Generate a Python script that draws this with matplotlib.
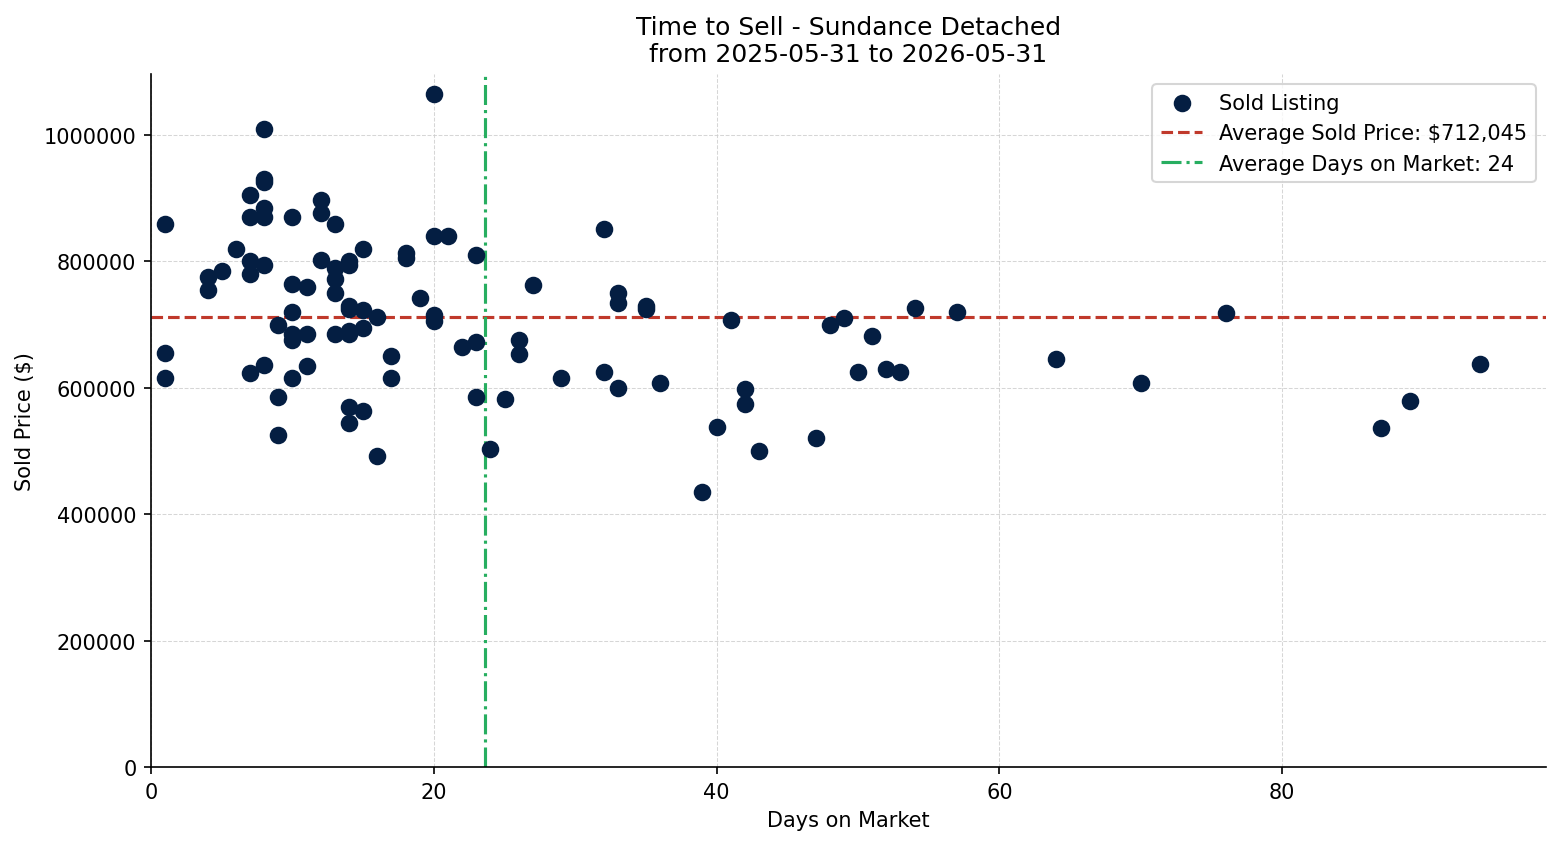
import matplotlib
matplotlib.use("Agg")
import matplotlib.pyplot as plt
from matplotlib.ticker import ScalarFormatter

# days on market and sold price
days = [1, 1, 1, 4, 4, 5, 6,
        7, 7, 7, 7, 7,
        8, 8, 8, 8, 8, 8, 8,
        9, 9, 9,
        10, 10, 10, 10, 10, 10,
        11, 11, 11,
        12, 12, 12,
        13, 13, 13, 13, 13,
        14, 14, 14, 14, 14, 14, 14, 14,
        15, 15, 15, 15,
        16, 16, 17, 17, 18, 18, 19,
        20, 20, 20, 20, 21, 22,
        23, 23, 23, 24, 25, 26, 26, 27, 29,
        32, 32, 33, 33, 33, 35, 35, 36,
        39, 40, 41, 42, 42, 43, 47, 48, 49, 50, 51, 52, 53, 54, 57,
        64, 70, 76, 87, 89, 94]
prices = [860000, 655000, 615000, 775000, 755000, 785000, 820000,
          905000, 870000, 800000, 780000, 623000,
          1010000, 930000, 925000, 885000, 870000, 795000, 637000,
          700000, 585000, 525000,
          870000, 765000, 720000, 685000, 675000, 615000,
          760000, 685000, 635000,
          897000, 877000, 803000,
          860000, 790000, 773000, 750000, 685000,
          800000, 795000, 730000, 725000, 690000, 685000, 570000, 545000,
          820000, 723000, 695000, 563000,
          712000, 492000, 650000, 615000, 814000, 806000, 742000,
          1065000, 840000, 715000, 706000, 840000, 665000,
          810000, 673000, 585000, 503000, 582000, 676000, 654000, 762000, 615000,
          852000, 625000, 750000, 735000, 600000, 730000, 725000, 608000,
          435000, 538000, 707000, 599000, 574000, 500000, 520000, 700000, 710000,
          625000, 682000, 630000, 625000, 726000, 720000,
          645000, 608000, 718000, 536000, 579000, 638000]

avg_price = 712045
avg_days = 23.6

fig = plt.figure(figsize=(10.4, 5.633), dpi=150)
ax = fig.add_axes([0.0968, 0.0908, 0.8942, 0.8205])

ax.scatter(days, prices, s=55, color="#041e42", label="Sold Listing", zorder=3)
ax.axhline(avg_price, color="#c0392b", linestyle="--", linewidth=1.5,
           label="Average Sold Price: ${:,}".format(avg_price))
ax.axvline(avg_days, color="#27ae60", linestyle="-.", linewidth=1.5,
           label="Average Days on Market: {}".format(round(avg_days)))

ax.set_xlim(left=0)
ax.set_ylim(bottom=0)

fmt = ScalarFormatter(useOffset=False)
fmt.set_scientific(False)
ax.yaxis.set_major_formatter(fmt)

ax.grid(True, linestyle="--", linewidth=0.5, color="#cccccc", alpha=0.8)
ax.set_axisbelow(True)
ax.spines["top"].set_visible(False)
ax.spines["right"].set_visible(False)

ax.set_title("Time to Sell - Sundance Detached\nfrom 2025-05-31 to 2026-05-31")
ax.set_xlabel("Days on Market")
ax.set_ylabel("Sold Price ($)")
ax.legend(loc="upper right")

fig.savefig("out.png", dpi=150)
